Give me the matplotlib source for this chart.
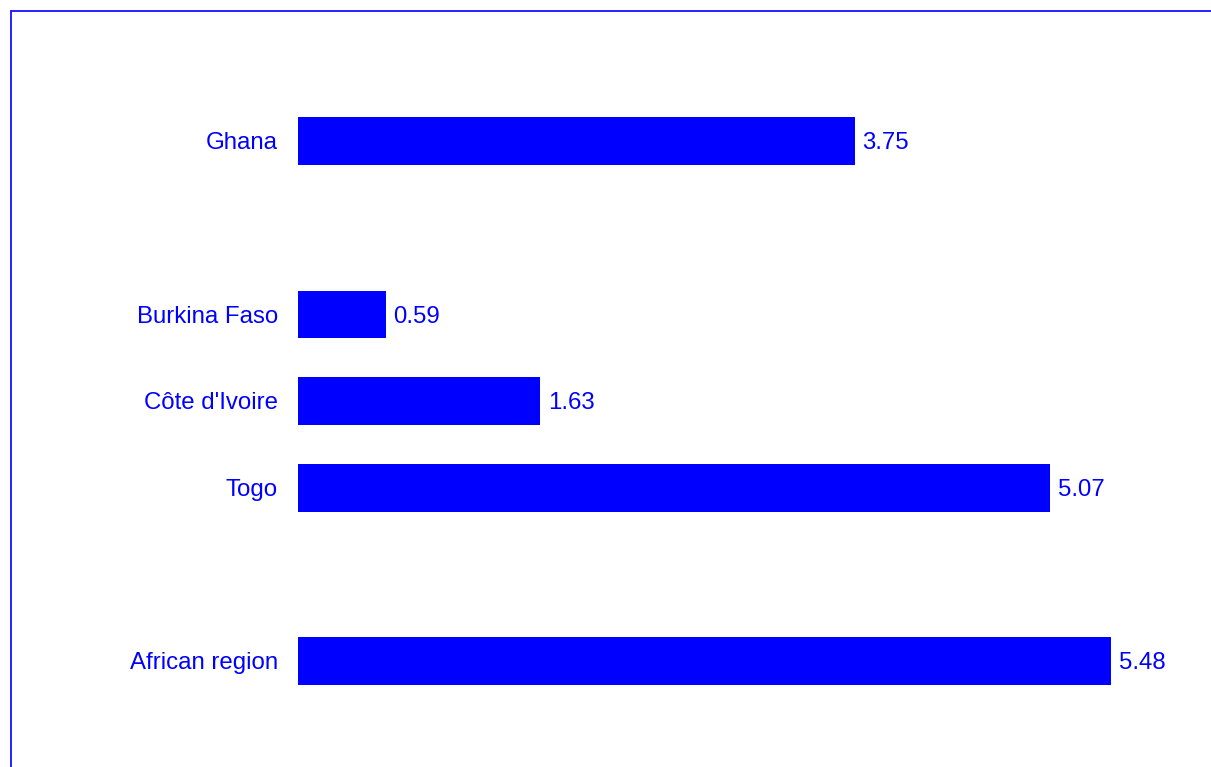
import matplotlib
matplotlib.use("Agg")
import matplotlib.pyplot as plt
from matplotlib.lines import Line2D

plt.rcParams['font.family'] = ['Liberation Sans', 'DejaVu Sans']

# data (blank slots keep the gaps between groups)
countries = ['Ghana', '', 'Burkina Faso', "Côte d'Ivoire", 'Togo', '', 'African region']
values = [3.75, None, 0.59, 1.63, 5.07, None, 5.48]

W, H = 1211, 767
px_x = 148.4   # pixels per unit on x
px_y = 86.67   # pixels per slot on y
fig = plt.figure(figsize=(W / 100, H / 100), dpi=100)
fig.patch.set_facecolor('white')

# axes placed in pixel terms
left_px, top_px = 298, 11
ax = fig.add_axes([left_px / W, 0, 1 - left_px / W, 1 - top_px / H])
ax.set_xlim(0, (W - left_px) / px_x)
ax.set_ylim(7.223, -1.5)
ax.axis('off')

blue = '#0000ff'
base = 8.3 / px_y  # baseline offset so caps sit centred on the bar
for i, (name, v) in enumerate(zip(countries, values)):
    if v is None:
        continue
    ax.barh(i, v, height=0.55, color=blue, edgecolor='none')
    ax.text(-20 / px_x, i + base, name, ha='right', va='baseline', color=blue, fontsize=17.3)
    ax.text(v + 8 / px_x, i + base, '%.2f' % v, ha='left', va='baseline', color=blue, fontsize=17.3)

# frame (top and left edges)
fig.add_artist(Line2D([11 / W, 1], [1 - 11 / H, 1 - 11 / H], color='#2222ff', lw=1.4))
fig.add_artist(Line2D([11 / W, 11 / W], [0, 1 - 11 / H], color='#2222ff', lw=1.4))

plt.savefig('out.png', dpi=100)
